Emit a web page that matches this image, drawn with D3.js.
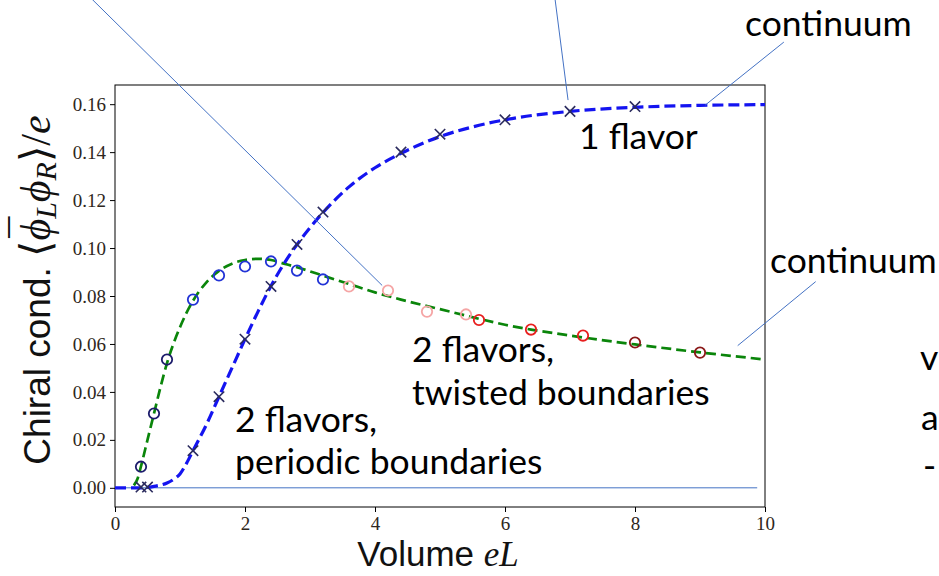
<!DOCTYPE html>
<html>
<head>
<meta charset="utf-8">
<script src="https://cdn.jsdelivr.net/npm/d3@7"></script>
<style>
  body { margin: 0; background: #fff; }
  svg { display: block; }
</style>
</head>
<body>
<script>
// 1 flavor, lattice points (crosses)
var flav1X = [0.4, 0.5, 1.2, 1.6, 2.0, 2.4, 2.8, 3.2, 4.4, 5.0, 6.0, 7.0, 8.0]
var flav1Y = [0.0003, 0.0003, 0.0155, 0.038, 0.062, 0.084, 0.1015, 0.115, 0.140, 0.1475, 0.1535, 0.157, 0.159]

// 1 flavor continuum (blue dashed)
var cont1X = [0, 0.4, 0.6, 0.8, 0.9, 1.0, 1.1, 1.2, 1.4, 1.6, 1.8, 2.0, 2.2, 2.4, 2.6, 2.8, 3.0, 3.2, 3.6, 4.0, 4.4, 5.0, 5.5, 6.0, 7.0, 8.0, 9.0, 10]
var cont1Y = [0, 0, 0.0006, 0.002, 0.0035, 0.0058, 0.0102, 0.0155, 0.026, 0.038, 0.050, 0.062, 0.0735, 0.0842, 0.0935, 0.1015, 0.1085, 0.1148, 0.1255, 0.1335, 0.1395, 0.1465, 0.1505, 0.1535, 0.157, 0.1587, 0.1595, 0.1598]

// 2 flavors, lattice points (circles) and their group
var flav2X = [0.4, 0.6, 0.8, 1.2, 1.6, 2.0, 2.4, 2.8, 3.2, 3.6, 4.2, 4.8, 5.4, 5.6, 6.4, 7.2, 8.0, 9.0]
var flav2Y = [0.0088, 0.031, 0.0535, 0.0785, 0.0886, 0.0923, 0.0944, 0.0906, 0.0869, 0.084, 0.0823, 0.0735, 0.0723, 0.070, 0.066, 0.0635, 0.0606, 0.0564]
var flav2Group = ['p0', 'p0', 'p0', 'p1', 'p1', 'p1', 'p1', 'p1', 'p1', 't0', 't0', 't0', 't0', 't1', 't1', 't1', 't2', 't2']

// 2 flavors continuum (green dashed)
var cont2X = [0.29, 0.35, 0.4, 0.5, 0.6, 0.7, 0.8, 1.0, 1.2, 1.4, 1.6, 1.8, 2.0, 2.2, 2.4, 2.6, 2.8, 3.2, 3.6, 4.0, 4.4, 5.0, 5.6, 6.0, 6.4, 7.0, 8.0, 9.0, 10]
var cont2Y = [0.001, 0.004, 0.009, 0.02, 0.031, 0.042, 0.052, 0.067, 0.078, 0.0855, 0.0905, 0.0935, 0.095, 0.0955, 0.095, 0.0935, 0.092, 0.0885, 0.085, 0.0815, 0.0785, 0.0745, 0.0705, 0.068, 0.066, 0.0635, 0.0598, 0.0565, 0.0535]

var xTicks = [0, 2, 4, 6, 8, 10]
var yTicks = [0, 0.02, 0.04, 0.06, 0.08, 0.10, 0.12, 0.14, 0.16]

// callout lines, in data units: [x1, y1, x2, y2]
var callouts = [
  [-0.354, 0.2038, 4.11, 0.0844],
  [6.77, 0.2038, 6.97, 0.1617],
  [10.29, 0.1859, 9.08, 0.1596],
  [10.78, 0.0860, 9.58, 0.0593]
]

var W = 939, H = 576
var margin = {left: 115, right: 174, top: 85, bottom: 69}
var width = W - margin.left - margin.right
var height = H - margin.top - margin.bottom

var x = d3.scaleLinear().domain([0, 10]).range([0, width])
var y = d3.scaleLinear().domain([-0.008, 0.168]).range([height, 0])

var groupColor = d3.scaleOrdinal()
  .domain(['p0', 'p1', 't0', 't1', 't2'])
  .range(['#1c1c6b', '#2233d6', '#f5a5a5', '#e81e1e', '#8a1818'])

var svg = d3.select('body').append('svg')
  .attr('width', W)
  .attr('height', H)

var g = svg.append('g')
  .attr('transform', 'translate(' + margin.left + ',' + margin.top + ')')

var serif = '"Liberation Serif", "DejaVu Serif", serif'
var sans = '"Liberation Sans", Arial, sans-serif'
var note = 'Lato, "Open Sans", sans-serif'

// axes
var xAxis = d3.axisBottom(x).tickValues(xTicks).tickSize(5).tickPadding(5).tickFormat(d3.format('d'))
var yAxis = d3.axisLeft(y).tickValues(yTicks).tickSize(5).tickPadding(4).tickFormat(d3.format('.2f'))

g.append('g')
  .attr('transform', 'translate(0,' + height + ')')
  .call(xAxis)
  .call(function (s) { s.select('.domain').remove() })

g.append('g')
  .call(yAxis)
  .call(function (s) { s.select('.domain').remove() })

g.selectAll('.tick line').attr('stroke', '#000').attr('stroke-width', 1)
g.selectAll('.tick text')
  .attr('fill', '#2e2620')
  .style('font-family', serif)
  .style('font-size', '19px')

// frame
g.append('rect')
  .attr('width', width)
  .attr('height', height)
  .attr('fill', 'none')
  .attr('stroke', '#000')
  .attr('stroke-width', 1)

// zero line
g.append('line')
  .attr('x1', x(0)).attr('x2', x(9.88))
  .attr('y1', y(0)).attr('y2', y(0))
  .attr('stroke', '#4472c4')
  .attr('stroke-width', 1)

var line = d3.line()
  .x(function (d) { return x(d[0]) })
  .y(function (d) { return y(d[1]) })
  .curve(d3.curveMonotoneX)

g.append('path')
  .datum(d3.zip(cont2X, cont2Y))
  .attr('d', line)
  .attr('fill', 'none')
  .attr('stroke', '#0a850a')
  .attr('stroke-width', 2.7)
  .attr('stroke-dasharray', '10,5')

g.append('path')
  .datum(d3.zip(cont1X, cont1Y))
  .attr('d', line)
  .attr('fill', 'none')
  .attr('stroke', '#1414f0')
  .attr('stroke-width', 3.2)
  .attr('stroke-dasharray', '11,5')

// circles
g.selectAll('.c2')
  .data(d3.zip(flav2X, flav2Y, flav2Group))
  .enter().append('circle')
  .attr('class', 'c2')
  .attr('cx', function (d) { return x(d[0]) })
  .attr('cy', function (d) { return y(d[1]) })
  .attr('r', 5.2)
  .attr('fill', 'none')
  .attr('stroke', function (d) { return groupColor(d[2]) })
  .attr('stroke-width', 1.8)

// crosses
var cs = 5.2
g.selectAll('.x1')
  .data(d3.zip(flav1X, flav1Y))
  .enter().append('path')
  .attr('class', 'x1')
  .attr('transform', function (d) { return 'translate(' + x(d[0]) + ',' + y(d[1]) + ')' })
  .attr('d', 'M' + (-cs) + ',' + (-cs) + 'L' + cs + ',' + cs + 'M' + (-cs) + ',' + cs + 'L' + cs + ',' + (-cs))
  .attr('stroke', '#2b2b5e')
  .attr('stroke-width', 1.6)

// callout lines
g.selectAll('.callout')
  .data(callouts)
  .enter().append('line')
  .attr('class', 'callout')
  .attr('x1', function (d) { return x(d[0]) })
  .attr('y1', function (d) { return y(d[1]) })
  .attr('x2', function (d) { return x(d[2]) })
  .attr('y2', function (d) { return y(d[3]) })
  .attr('stroke', '#4472c4')
  .attr('stroke-width', 1)

// axis titles
var xl = svg.append('text')
  .attr('x', 438)
  .attr('y', 566)
  .attr('text-anchor', 'middle')
  .attr('fill', '#111')
  .style('font-size', '35px')
xl.append('tspan').style('font-family', sans).text('Volume ')
xl.append('tspan').style('font-family', serif).style('font-style', 'italic').text('eL')

var yl = svg.append('text')
  .attr('transform', 'translate(50,290) rotate(-90)')
  .attr('text-anchor', 'middle')
  .attr('fill', '#111')
  .style('font-size', '37px')
yl.append('tspan').style('font-family', sans).text('Chiral cond. ')
yl.append('tspan').style('font-family', serif).style('font-size', '42px').text('\u27e8')
yl.append('tspan').style('font-family', serif).style('font-style', 'italic').style('font-size', '42px').text('\u03d5')
yl.append('tspan').style('font-family', serif).style('font-size', '42px').attr('dx', -19).attr('dy', -10).text('\u00af')
yl.append('tspan').style('font-family', serif).style('font-style', 'italic').style('font-size', '30px').attr('dx', -2).attr('dy', 16).text('L')
yl.append('tspan').style('font-family', serif).style('font-style', 'italic').style('font-size', '42px').attr('dy', -6).text('\u03d5')
yl.append('tspan').style('font-family', serif).style('font-style', 'italic').style('font-size', '30px').attr('dy', 6).text('R')
yl.append('tspan').style('font-family', serif).style('font-size', '42px').attr('dy', -6).text('\u27e9/')
yl.append('tspan').style('font-family', serif).style('font-style', 'italic').style('font-size', '42px').text('e')

// annotation text
var notes = [
  {x: 745, y: 36, t: 'continuum'},
  {x: 579, y: 149, t: '1 flavor'},
  {x: 770, y: 273, t: 'continuum'},
  {x: 412, y: 362, t: '2 flavors,'},
  {x: 412, y: 405, t: 'twisted boundaries'},
  {x: 235, y: 432, t: '2 flavors,'},
  {x: 235, y: 474, t: 'periodic boundaries'},
  {x: 920, y: 370, t: 'v'},
  {x: 921, y: 430, t: 'a'},
  {x: 923, y: 478, t: '-'}
]
svg.selectAll('.note')
  .data(notes)
  .enter().append('text')
  .attr('class', 'note')
  .attr('x', function (d) { return d.x })
  .attr('y', function (d) { return d.y })
  .attr('fill', '#000')
  .style('font-family', note)
  .style('font-size', '35.5px')
  .text(function (d) { return d.t })
</script>
</body>
</html>
